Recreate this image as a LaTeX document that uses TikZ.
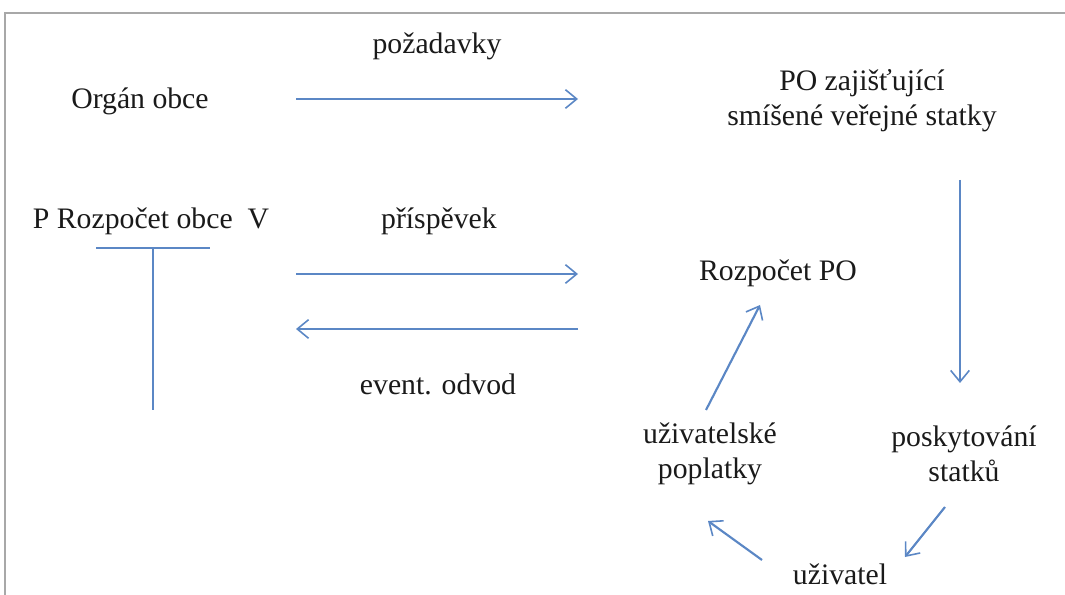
\documentclass[tikz,border=0pt]{standalone}
\usepackage{fontspec}
\setmainfont{Liberation Serif}
\usetikzlibrary{arrows.meta}
\definecolor{arrowblue}{HTML}{5B87C5}
\definecolor{framegray}{HTML}{A8A8A8}
\definecolor{txt}{HTML}{1A1A1A}
\begin{document}
\begin{tikzpicture}[x=0.75pt,y=-0.75pt,
  lbl/.style={font=\fontsize{22.3}{26}\selectfont, text=txt, inner sep=0pt, align=center},
  conn/.style={draw=arrowblue, line width=1.6pt},
  arr/.style={conn, -{Straight Barb[length=8.5pt,width=14pt,line width=1.2pt]}},
  frameline/.style={draw=framegray, line width=1.6pt}]
\useasboundingbox (0,0) rectangle (1065,595);
% partial frame
\coordinate (fb) at (5,595);
\coordinate (fc) at (5,13);
\coordinate (fr) at (1065,13);
\draw[frameline] (fb) -- (fc) -- (fr);
% texts
\node[lbl] (pozad) at (437,46) {požadavky};
\node[lbl] (organ) at (140,101) {Orgán obce};
\node[lbl] (pozaj) at (862,101) {PO zajišťující\\smíšené veřejné statky};
\node[lbl] (rozobce) at (151,221) {P Rozpočet obce\ \ V};
\node[lbl] (prisp) at (439,221) {příspěvek};
\node[lbl] (odvod) at (438,384) {event. odvod};
\node[lbl] (rozpo) at (778,273) {Rozpočet PO};
\node[lbl] (poplatky) at (710,454) {uživatelské\\poplatky};
\node[lbl] (poskyt) at (964,454) {poskytování\\statků};
\node[lbl] (uziv) at (840,574) {uživatel};
% T account
\coordinate (tl) at (96,248);
\coordinate (tr) at (210,248);
\coordinate (tt) at (153,248);
\coordinate (tb) at (153,410);
\draw[conn] (tl) -- (tr);
\draw[conn] (tt) -- (tb);
% arrow endpoints
\coordinate (a1s) at (296,99);  \coordinate (a1e) at (578,99);
\coordinate (a2s) at (296,274); \coordinate (a2e) at (578,274);
\coordinate (a3s) at (578,329); \coordinate (a3e) at (296,329);
\coordinate (a4s) at (960,180); \coordinate (a4e) at (960,383);
\coordinate (a5s) at (945,507); \coordinate (a5e) at (905,557);
\coordinate (a6s) at (762,560); \coordinate (a6e) at (708,521);
\coordinate (a7s) at (706,410); \coordinate (a7e) at (760,305);
\draw[arr] (a1s) -- (a1e);
\draw[arr] (a2s) -- (a2e);
\draw[arr] (a3s) -- (a3e);
\draw[arr] (a4s) -- (a4e);
\draw[arr] (a5s) -- (a5e);
\draw[arr] (a6s) -- (a6e);
\draw[arr] (a7s) -- (a7e);
\end{tikzpicture}
\end{document}
